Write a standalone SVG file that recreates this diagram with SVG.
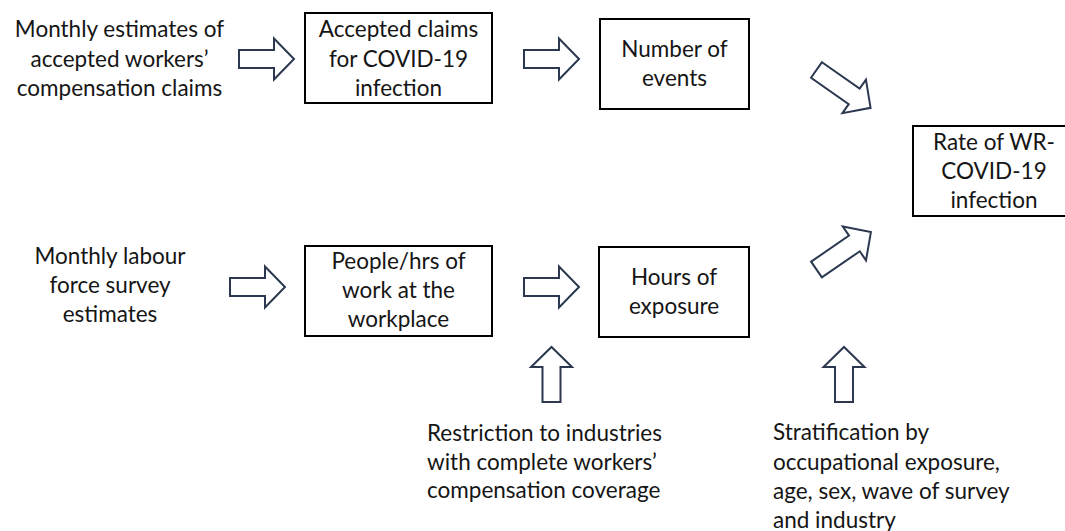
<svg xmlns="http://www.w3.org/2000/svg" width="1065" height="531" viewBox="0 0 1065 531">
<defs>
<style>
.box{fill:#fff;stroke:#000;stroke-width:2}
.arr{fill:#fff;stroke:#2b3850;stroke-width:2;stroke-linejoin:miter}
text{font-family:Lato,"Open Sans",sans-serif;font-size:22.5px;fill:#151515}
.c{text-anchor:middle}
</style>
<path id="ah" d="M0,-9 H35 V-20.5 L55,0 L35,20.5 V9 H0 Z"/>
<path id="ad" d="M0,-9.5 H46 V-20.5 L66,0 L46,20.5 V9.5 H0 Z"/>
</defs>
<rect width="1065" height="531" fill="#fff"/>
<g id="connectors">
<use href="#ah" class="arr" transform="translate(239,59)"/>
<use href="#ah" class="arr" transform="translate(524,59)"/>
<use href="#ah" class="arr" transform="translate(230,287)"/>
<use href="#ah" class="arr" transform="translate(524,287)"/>
<use href="#ah" class="arr" transform="translate(551.5,402) rotate(-90)"/>
<use href="#ah" class="arr" transform="translate(844,402) rotate(-90)"/>
<use href="#ad" class="arr" transform="translate(816.5,70) rotate(35)"/>
<use href="#ad" class="arr" transform="translate(816.5,269.5) rotate(-34.5)"/>
</g>
<g id="src-claims">
<text class="c" x="119.5" y="37">Monthly estimates of</text>
<text class="c" x="119.5" y="67">accepted workers’</text>
<text class="c" x="119.5" y="96">compensation claims</text>
</g>
<g id="accepted-claims">
<rect class="box" x="305" y="13" width="187" height="90"/>
<text class="c" x="398.5" y="37">Accepted claims</text>
<text class="c" x="398.5" y="67">for COVID-19</text>
<text class="c" x="398.5" y="96">infection</text>
</g>
<g id="number-events">
<rect class="box" x="600" y="19" width="149" height="90"/>
<text class="c" x="674.5" y="57">Number of</text>
<text class="c" x="674.5" y="86">events</text>
</g>
<g id="rate">
<rect class="box" x="913" y="126" width="153" height="90"/>
<text class="c" x="994" y="150">Rate of WR-</text>
<text class="c" x="994" y="179">COVID-19</text>
<text class="c" x="994" y="208">infection</text>
</g>
<g id="src-labour">
<text class="c" x="110" y="264">Monthly labour</text>
<text class="c" x="110" y="293">force survey</text>
<text class="c" x="110" y="322">estimates</text>
</g>
<g id="people-hrs">
<rect class="box" x="305" y="246" width="187" height="90"/>
<text class="c" x="398.5" y="269">People/hrs of</text>
<text class="c" x="398.5" y="298">work at the</text>
<text class="c" x="398.5" y="327">workplace</text>
</g>
<g id="hours-exposure">
<rect class="box" x="599" y="247" width="150" height="90"/>
<text class="c" x="674" y="285">Hours of</text>
<text class="c" x="674" y="314">exposure</text>
</g>
<g id="restriction">
<text x="427" y="441">Restriction to industries</text>
<text x="427" y="470">with complete workers’</text>
<text x="427" y="498">compensation coverage</text>
</g>
<g id="stratification">
<text x="773" y="440">Stratification by</text>
<text x="773" y="470">occupational exposure,</text>
<text x="773" y="499">age, sex, wave of survey</text>
<text x="773" y="528">and industry</text>
</g>
</svg>
